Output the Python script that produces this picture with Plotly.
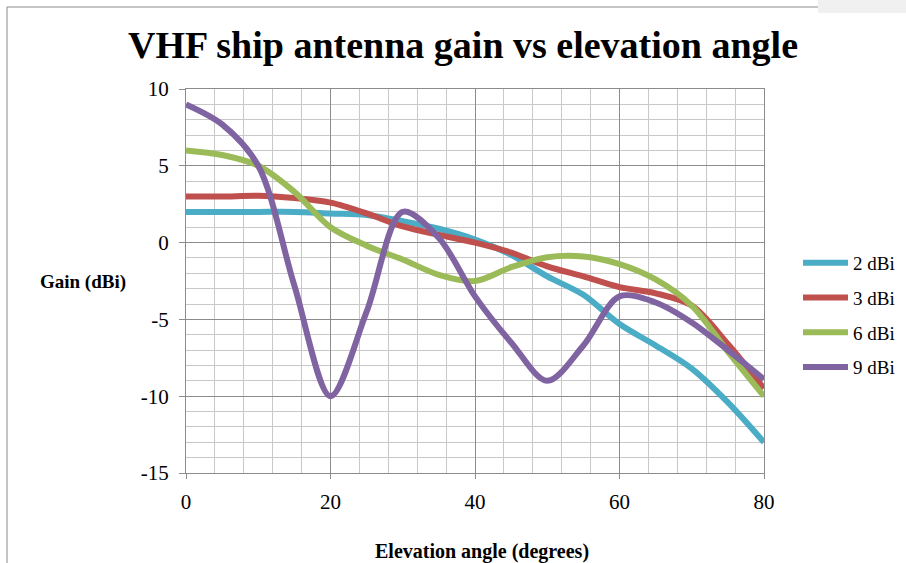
import plotly.graph_objects as go

angles = [0, 5, 10, 15, 20, 25, 30, 35, 40, 45, 50, 55, 60, 65, 70, 75, 80]
gain_2dbi = [2.0, 2.0, 2.0, 2.0, 1.9, 1.8, 1.4, 0.9, 0.2, -0.8, -2.2, -3.4, -5.3, -6.7, -8.2, -10.4, -13.0]
gain_3dbi = [3.0, 3.0, 3.05, 2.9, 2.6, 1.9, 1.05, 0.5, 0.0, -0.65, -1.55, -2.2, -2.9, -3.3, -4.1, -6.6, -9.5]
gain_6dbi = [6.0, 5.7, 5.0, 3.3, 1.0, -0.2, -1.1, -2.1, -2.5, -1.6, -0.95, -0.9, -1.4, -2.4, -4.1, -7.1, -10.0]
gain_9dbi = [9.0, 7.7, 5.0, -2.8, -10.0, -4.5, 2.0, 0.3, -3.5, -6.5, -9.0, -6.7, -3.5, -3.9, -5.2, -7.0, -8.9]

series_names = ["2 dBi", "3 dBi", "6 dBi", "9 dBi"]
series_values = [gain_2dbi, gain_3dbi, gain_6dbi, gain_9dbi]
colors = ["#4bacc6", "#c0504d", "#9bbb59", "#8064a2"]

x_ticks = [0, 20, 40, 60, 80]
y_ticks = [-15, -10, -5, 0, 5, 10]

SERIF = "Liberation Serif"

fig = go.Figure()
for name, vals, col in zip(series_names, series_values, colors):
    fig.add_trace(go.Scatter(x=angles, y=vals, name=name, mode="lines", legendgroup=name,
                             line=dict(color=col, width=6, shape="spline", smoothing=0.9)))

L, R, T, B = 186, 906 - 764, 89, 563 - 473
W, H = 906, 563
pw, ph = W - L - R, H - T - B

def px_x(p):
    return (p - L) / pw

def px_y(p):
    return (H - B - p) / ph

fig.update_layout(
    width=W, height=H,
    margin=dict(l=L, r=R, t=T, b=B, autoexpand=False),
    paper_bgcolor="white", plot_bgcolor="white",
    title=dict(text="<b>VHF ship antenna gain vs elevation angle</b>",
               font=dict(family=SERIF, size=38, color="black"),
               x=463 / W, xanchor="center", xref="container",
               y=1 - 45 / H, yanchor="middle", yref="container"),
    showlegend=True,
    legend=dict(x=px_x(798), y=px_y(315), xanchor="left", yanchor="middle",
                font=dict(family=SERIF, size=19, color="black"),
                itemwidth=45, tracegroupgap=7, bgcolor="rgba(0,0,0,0)"),
    xaxis=dict(range=[0, 80], tickvals=x_ticks, ticktext=[str(v) for v in x_ticks],
               showgrid=True, gridcolor="#8c8c8c", gridwidth=1,
               minor=dict(dtick=4, showgrid=True, gridcolor="#c8c8c8", gridwidth=1),
               showline=True, linecolor="#8c8c8c", linewidth=1, mirror=True,
               ticks="outside", ticklen=5, tickcolor="#8c8c8c", ticklabelstandoff=5,
               tickfont=dict(family=SERIF, size=21, color="black"),
               zeroline=False),
    yaxis=dict(range=[-15, 10], tickvals=y_ticks, ticktext=[str(v) for v in y_ticks],
               showgrid=True, gridcolor="#8c8c8c", gridwidth=1,
               minor=dict(dtick=1, showgrid=True, gridcolor="#c8c8c8", gridwidth=1),
               showline=True, linecolor="#8c8c8c", linewidth=1, mirror=True,
               ticks="outside", ticklen=6, tickcolor="#8c8c8c", ticklabelstandoff=6,
               tickfont=dict(family=SERIF, size=21, color="black"),
               zeroline=False),
)

fig.add_annotation(text="<b>Gain (dBi)</b>", xref="paper", yref="paper",
                   x=px_x(83), y=px_y(282), xanchor="center", yanchor="middle",
                   showarrow=False, font=dict(family=SERIF, size=19, color="black"))
fig.add_annotation(text="<b>Elevation angle (degrees)</b>", xref="paper", yref="paper",
                   x=px_x(482), y=px_y(551), xanchor="center", yanchor="middle",
                   showarrow=False, font=dict(family=SERIF, size=20, color="black"))

# chart frame and spreadsheet background corner
fig.add_shape(type="rect", xref="paper", yref="paper",
              x0=px_x(818), x1=px_x(906), y0=px_y(13), y1=px_y(0),
              fillcolor="#f0f0f0", line=dict(width=0), layer="below")
fig.add_shape(type="line", xref="paper", yref="paper",
              x0=px_x(7), x1=px_x(818), y0=px_y(7), y1=px_y(7),
              line=dict(color="#8c8c8c", width=1))
fig.add_shape(type="line", xref="paper", yref="paper",
              x0=px_x(7), x1=px_x(7), y0=px_y(7), y1=px_y(563),
              line=dict(color="#8c8c8c", width=1))

fig.write_html("out.html")
